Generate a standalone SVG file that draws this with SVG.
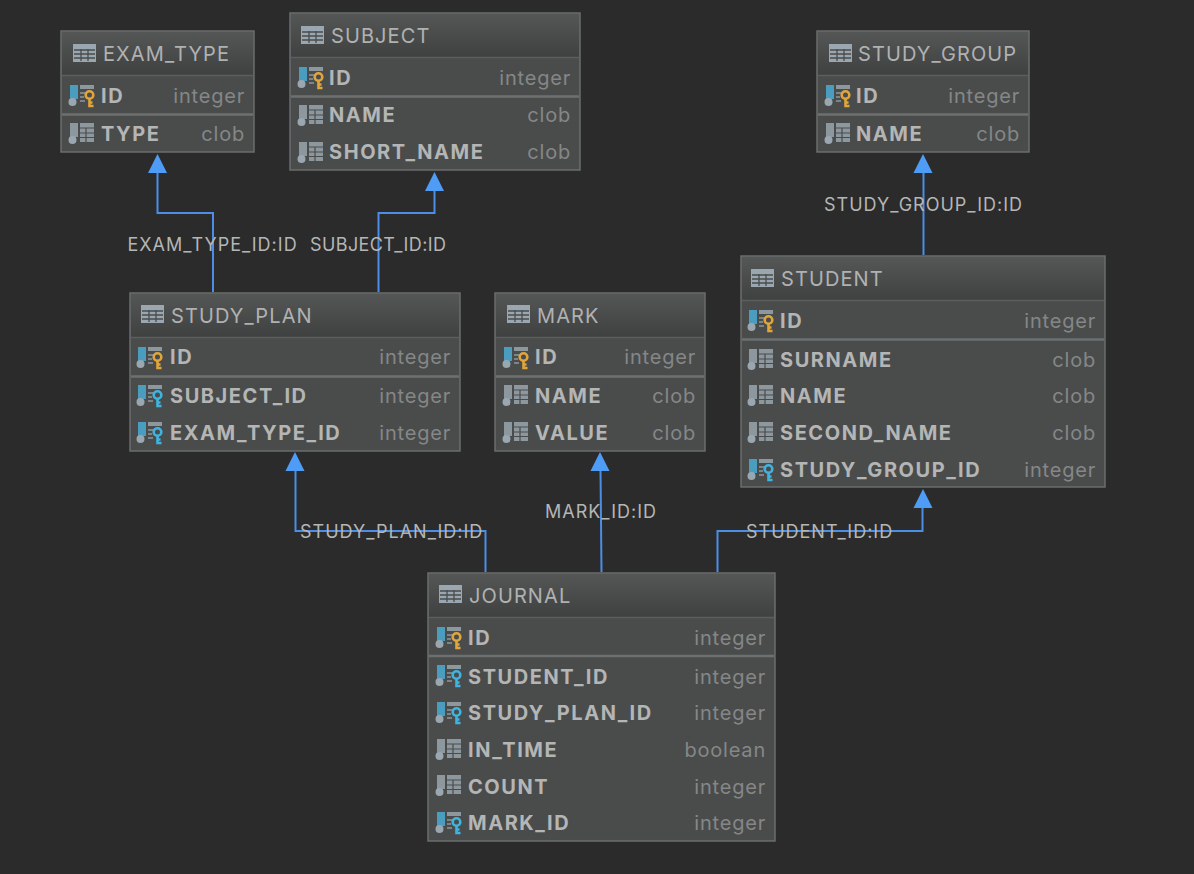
<svg xmlns="http://www.w3.org/2000/svg" width="1194" height="874" viewBox="0 0 1194 874">
<style>
text{font-family:Inter,"Noto Sans","Liberation Sans",sans-serif}
.box{fill:#4a4c4c;stroke:#6b6e6e;stroke-width:1.5}
.hl{stroke:#5c5e5e;stroke-width:1.5;fill:none}
.sep{stroke:#6e7070;stroke-width:2.5;fill:none}
.t{font-size:20px;fill:#b0b2b2;letter-spacing:1.1px}
.c{font-size:20px;font-weight:700;fill:#b4b5b5;letter-spacing:1.55px}
.y{font-size:20px;fill:#858787;text-anchor:end;letter-spacing:.8px}
.l{font-size:18px;fill:#b4b6b6;letter-spacing:1px}
.e{fill:none;stroke:#4a8ee6;stroke-width:2}
.a{fill:#4f9cf6}
</style>
<defs>
<linearGradient id="hg" x1="0" y1="0" x2="0" y2="1"><stop offset="0" stop-color="#555757"/><stop offset="1" stop-color="#3f4141"/></linearGradient>
<g id="tb"><rect x="0" y="0" width="23" height="18" fill="#9aa7b0"/><path d="M1 6h21M1 10h21M1 14h21M8 5v12M15 5v12" stroke="#4a4c4c" stroke-width="1.3" fill="none"/></g>
<g id="col"><rect x="1" y="0" width="8" height="14" fill="#8d979e"/><circle cx="3.500" cy="17" r="4" fill="#9aa7b0"/><rect x="11" y="0" width="14" height="19" fill="#8d979e"/><path d="M11 5h14M11 10h14M11 14.500h14M17 5v14" stroke="#4a4c4c" stroke-width="1.2" fill="none"/></g>
<g id="pk"><rect x="1" y="0" width="8" height="14" fill="#4a9dbf"/><circle cx="3.500" cy="17" r="4" fill="#9aa7b0"/><rect x="11" y="0" width="14" height="4" fill="#8d979e"/><path d="M11 8h6M11 12h4M11 16h5" stroke="#8d979e" stroke-width="1.500"/><circle cx="20.500" cy="10" r="3.800" fill="none" stroke="#e0a63c" stroke-width="2.600"/><path d="M20.500 13v8h4M20.500 17.500h3" stroke="#e0a63c" stroke-width="2.600" fill="none"/></g>
<g id="fk"><rect x="1" y="0" width="8" height="14" fill="#4a9dbf"/><circle cx="3.500" cy="17" r="4" fill="#9aa7b0"/><rect x="11" y="0" width="14" height="4" fill="#8d979e"/><path d="M11 8h6M11 12h4M11 16h5" stroke="#8d979e" stroke-width="1.500"/><circle cx="20.500" cy="10" r="3.800" fill="none" stroke="#3fb4e0" stroke-width="2.600"/><path d="M20.500 13v8h4M20.500 17.500h3" stroke="#3fb4e0" stroke-width="2.600" fill="none"/></g>
</defs>
<rect width="1194" height="874" fill="#2b2b2b"/>

<g id="connectors">
<path class="e" d="M213 292V213H157.500V170"/><path class="a" d="M157.500 154l-9.500 19h19z"/>
<path class="e" d="M378.500 292V213H434.500V188"/><path class="a" d="M434.500 172l-9.500 19h19z"/>
<path class="e" d="M923.500 255V170"/><path class="a" d="M923 154l-9.500 19h19z"/>
<path class="e" d="M485.500 572V531H295.500V470"/><path class="a" d="M295 452l-9.500 19h19z"/>
<path class="e" d="M601.500 572L600.500 470"/><path class="a" d="M600 452l-9.500 19h19z"/>
<path class="e" d="M717.500 572V531H922.500V506"/><path class="a" d="M923 489l-9.500 19h19z"/>
<text class="l" x="127.500" y="251">EXAM_TYPE_ID:ID</text>
<text class="l" x="310" y="251" style="letter-spacing:.4px">SUBJECT_ID:ID</text>
<text class="l" x="824" y="211">STUDY_GROUP_ID:ID</text>
<text class="l" x="300" y="538">STUDY_PLAN_ID:ID</text>
<text class="l" x="545" y="518">MARK_ID:ID</text>
<text class="l" x="746" y="538">STUDENT_ID:ID</text>
</g>

<g id="exam_type">
<rect class="box" x="61" y="31" width="193" height="121"/>
<rect x="62" y="32" width="191" height="43" fill="url(#hg)"/><path class="hl" d="M62 75.500H253"/><path class="sep" d="M62 114.500H253"/>
<use href="#tb" x="73" y="44"/><text class="t" x="103" y="61">EXAM_TYPE</text>
<use href="#pk" x="69" y="85"/><text class="c" x="101" y="103">ID</text><text class="y" x="245" y="103">integer</text>
<use href="#col" x="69" y="123"/><text class="c" x="101" y="141">TYPE</text><text class="y" x="245" y="141">clob</text>
</g>

<g id="subject">
<rect class="box" x="290" y="13" width="290" height="157"/>
<rect x="291" y="14" width="288" height="43" fill="url(#hg)"/><path class="hl" d="M291 57.500H579"/><path class="sep" d="M291 96.500H579"/>
<use href="#tb" x="301" y="26"/><text class="t" x="331" y="43">SUBJECT</text>
<use href="#pk" x="298" y="67"/><text class="c" x="329" y="85">ID</text><text class="y" x="571" y="85">integer</text>
<use href="#col" x="298" y="105"/><text class="c" x="329" y="122">NAME</text><text class="y" x="571" y="122">clob</text>
<use href="#col" x="298" y="142"/><text class="c" x="329" y="159">SHORT_NAME</text><text class="y" x="571" y="159">clob</text>
</g>

<g id="study_group">
<rect class="box" x="817" y="31" width="212" height="121"/>
<rect x="818" y="32" width="210" height="43" fill="url(#hg)"/><path class="hl" d="M818 75.500H1028"/><path class="sep" d="M818 114.500H1028"/>
<use href="#tb" x="829" y="44"/><text class="t" x="858" y="61">STUDY_GROUP</text>
<use href="#pk" x="825" y="85"/><text class="c" x="856" y="103">ID</text><text class="y" x="1020" y="103">integer</text>
<use href="#col" x="825" y="123"/><text class="c" x="856" y="141">NAME</text><text class="y" x="1020" y="141">clob</text>
</g>

<g id="study_plan">
<rect class="box" x="130" y="293" width="330" height="158"/>
<rect x="131" y="294" width="328" height="43" fill="url(#hg)"/><path class="hl" d="M131 337.500H459"/><path class="sep" d="M131 376.500H459"/>
<use href="#tb" x="141" y="305"/><text class="t" x="171" y="323">STUDY_PLAN</text>
<use href="#pk" x="137" y="347"/><text class="c" x="170" y="364">ID</text><text class="y" x="451" y="364">integer</text>
<use href="#fk" x="137" y="385"/><text class="c" x="170" y="403">SUBJECT_ID</text><text class="y" x="451" y="403">integer</text>
<use href="#fk" x="137" y="422"/><text class="c" x="170" y="440">EXAM_TYPE_ID</text><text class="y" x="451" y="440">integer</text>
</g>

<g id="mark">
<rect class="box" x="495" y="293" width="210" height="158"/>
<rect x="496" y="294" width="208" height="43" fill="url(#hg)"/><path class="hl" d="M496 337.500H704"/><path class="sep" d="M496 376.500H704"/>
<use href="#tb" x="507" y="305"/><text class="t" x="537" y="323">MARK</text>
<use href="#pk" x="503" y="347"/><text class="c" x="535" y="364">ID</text><text class="y" x="696" y="364">integer</text>
<use href="#col" x="503" y="385"/><text class="c" x="535" y="403">NAME</text><text class="y" x="696" y="403">clob</text>
<use href="#col" x="503" y="422"/><text class="c" x="535" y="440">VALUE</text><text class="y" x="696" y="440">clob</text>
</g>

<g id="student">
<rect class="box" x="741" y="256" width="364" height="231"/>
<rect x="742" y="257" width="362" height="44" fill="url(#hg)"/><path class="hl" d="M742 300.500H1104"/><path class="sep" d="M742 339.500H1104"/>
<use href="#tb" x="751" y="269"/><text class="t" x="781" y="286">STUDENT</text>
<use href="#pk" x="748" y="310"/><text class="c" x="780" y="328">ID</text><text class="y" x="1096" y="328">integer</text>
<use href="#col" x="748" y="349"/><text class="c" x="780" y="367">SURNAME</text><text class="y" x="1096" y="367">clob</text>
<use href="#col" x="748" y="385"/><text class="c" x="780" y="403">NAME</text><text class="y" x="1096" y="403">clob</text>
<use href="#col" x="748" y="422"/><text class="c" x="780" y="440">SECOND_NAME</text><text class="y" x="1096" y="440">clob</text>
<use href="#fk" x="748" y="459"/><text class="c" x="780" y="477">STUDY_GROUP_ID</text><text class="y" x="1096" y="477">integer</text>
</g>

<g id="journal">
<rect class="box" x="428" y="573" width="347" height="268"/>
<rect x="429" y="574" width="345" height="43" fill="url(#hg)"/><path class="hl" d="M429 617.500H774"/><path class="sep" d="M429 656H774"/>
<use href="#tb" x="439" y="585"/><text class="t" x="469" y="603">JOURNAL</text>
<use href="#pk" x="436" y="627"/><text class="c" x="468" y="645">ID</text><text class="y" x="766" y="645">integer</text>
<use href="#fk" x="436" y="665"/><text class="c" x="468" y="684">STUDENT_ID</text><text class="y" x="766" y="684">integer</text>
<use href="#fk" x="436" y="702"/><text class="c" x="468" y="720">STUDY_PLAN_ID</text><text class="y" x="766" y="720">integer</text>
<use href="#col" x="436" y="739"/><text class="c" x="468" y="757">IN_TIME</text><text class="y" x="766" y="757">boolean</text>
<use href="#col" x="436" y="775"/><text class="c" x="468" y="794">COUNT</text><text class="y" x="766" y="794">integer</text>
<use href="#fk" x="436" y="812"/><text class="c" x="468" y="830">MARK_ID</text><text class="y" x="766" y="830">integer</text>
</g>
</svg>
